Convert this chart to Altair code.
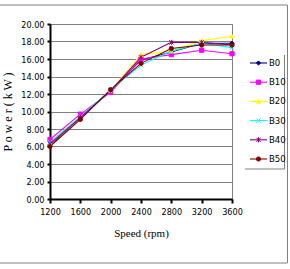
import altair as alt
import pandas as pd

# Engine speed (rpm) and brake power (kW) for each blend
speeds = [1200, 1600, 2000, 2400, 2800, 3200, 3600]
blends = ["B0", "B10", "B20", "B30", "B40", "B50"]
b0 = [6.2, 9.3, 12.4, 15.9, 16.8, 17.8, 17.8]
b10 = [6.8, 9.7, 12.2, 16.0, 16.5, 17.0, 16.6]
b20 = [6.3, 9.3, 12.4, 16.5, 16.9, 18.1, 18.6]
b30 = [6.5, 9.4, 12.5, 15.3, 16.9, 17.8, 17.3]
b40 = [6.3, 9.3, 12.4, 16.2, 17.9, 17.9, 17.6]
b50 = [6.0, 9.1, 12.5, 15.5, 17.2, 17.6, 17.6]

colors = ["#000080", "#FF00FF", "#FFFF00", "#00FFFF", "#800080", "#800000"]
shapes = [
    "diamond",
    "square",
    "triangle-up",
    "M-1,-1L1,1M1,-1L-1,1",
    "M-1,-1L1,1M1,-1L-1,1M0,-1.2L0,1.2",
    "circle",
]

NARROW = "DejaVu Sans Condensed, Liberation Sans Narrow, Arial Narrow, sans-serif"
SERIF = "Liberation Serif, Times New Roman, serif"

series = [b0, b10, b20, b30, b40, b50]
rows = []
for name, vals in zip(blends, series):
    for s, v in zip(speeds, vals):
        rows.append({"speed": s, "power": v, "blend": name})
df = pd.DataFrame(rows)
leg = pd.DataFrame({"blend": blends})

color = alt.Color("blend:N", scale=alt.Scale(domain=blends, range=colors), legend=None)
stroke = alt.Stroke("blend:N", scale=alt.Scale(domain=blends, range=colors), legend=None)
shape = alt.Shape("blend:N", scale=alt.Scale(domain=blends, range=shapes), legend=None)

x_enc = alt.X(
    "speed:Q",
    scale=alt.Scale(domain=[1200, 3600], nice=False, zero=False),
    axis=alt.Axis(
        values=speeds, format="d", title="Speed (rpm)", grid=False,
        domainColor="black", domainWidth=2, tickColor="black", tickWidth=2,
        tickSize=4, labelPadding=4, labelFont=NARROW, labelOverlap=False,
        labelFlush=False, labelFontSize=9, labelColor="black", titleFont=SERIF,
        titleFontSize=11, titleFontWeight="normal", titleColor="black",
        titlePadding=11,
    ),
)
y_enc = alt.Y(
    "power:Q",
    scale=alt.Scale(domain=[0, 20], nice=False),
    axis=alt.Axis(
        values=list(range(0, 21, 2)), format=".2f", title="P o w e r   ( k W )",
        gridColor="#808080", gridWidth=1, domainColor="black", domainWidth=2,
        tickColor="black", tickWidth=2, tickSize=3, labelPadding=3,
        labelFont=NARROW, labelFontSize=9, labelColor="black", labelOverlap=False,
        labelFlush=False, titleFont=SERIF, titleFontSize=12, titleFontWeight="normal",
        titleColor="black", titlePadding=6,
    ),
)

lines = alt.Chart(df).mark_line(strokeWidth=1.1).encode(x=x_enc, y=y_enc, color=color)
points = alt.Chart(df).mark_point(filled=True, size=18, strokeWidth=1, opacity=1).encode(
    x=x_enc, y=y_enc, color=color, stroke=stroke, shape=shape
)
data_layer = alt.layer(lines, points)

one = pd.DataFrame({"a": [0]})
frame = alt.Chart(one).mark_rect(filled=False, stroke="#808080", strokeWidth=1).encode(
    x=alt.value(-51), x2=alt.value(237.5), y=alt.value(-19), y2=alt.value(239)
)
# legend panel: white backing with a right and bottom edge
legend_box = alt.Chart(one).mark_rect(fill="white", strokeWidth=0).encode(
    x=alt.value(195), x2=alt.value(234.5), y=alt.value(31), y2=alt.value(145)
)
legend_right = alt.Chart(one).mark_rule(color="#808080", strokeWidth=1).encode(
    x=alt.value(234.5), y=alt.value(31), y2=alt.value(145)
)
legend_bottom = alt.Chart(one).mark_rule(color="#808080", strokeWidth=1).encode(
    x=alt.value(195), x2=alt.value(234.5), y=alt.value(145)
)

leg_y = alt.Y(
    "blend:N",
    scale=alt.Scale(type="point", domain=blends, range=[39, 135], padding=0),
    axis=None,
)
leg_rules = alt.Chart(leg).mark_rule(strokeWidth=1.1).encode(
    x=alt.value(200), x2=alt.value(217), y=leg_y, color=color
)
leg_pts = alt.Chart(leg).mark_point(filled=True, size=18, strokeWidth=1, opacity=1).encode(
    x=alt.value(208.5), y=leg_y, color=color, stroke=stroke, shape=shape
)
leg_text = alt.Chart(leg).mark_text(
    align="left", baseline="middle", font=NARROW, fontSize=9.5, color="black"
).encode(x=alt.value(219), y=leg_y, text="blend:N")
legend_layer = alt.layer(leg_rules, leg_pts, leg_text)

chart = (
    alt.layer(frame, data_layer, legend_box, legend_right, legend_bottom, legend_layer)
    .resolve_scale(y="independent")
    .properties(
        width=182,
        height=175,
        autosize=alt.AutoSizeParams(type="none"),
        padding={"left": 50, "top": 24, "right": 58, "bottom": 70},
        background="white",
    )
    .configure_view(stroke="#808080", strokeWidth=1)
)

chart.save("out.html", embed_options={"renderer": "svg", "actions": False})
